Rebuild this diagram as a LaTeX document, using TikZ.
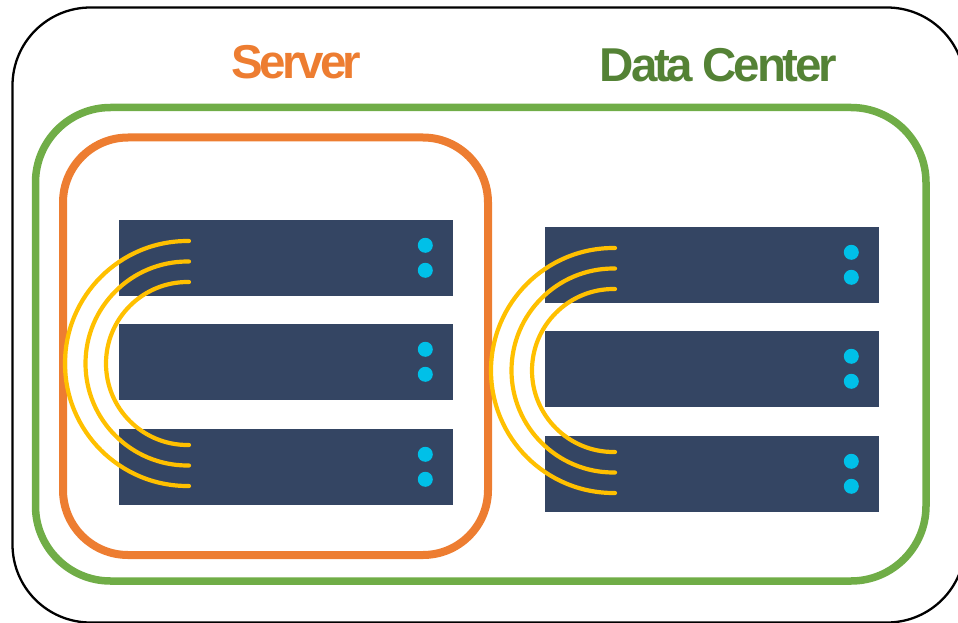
\documentclass[tikz,border=0pt]{standalone}
\usepackage{fontspec}
\setmainfont{Liberation Sans}
\definecolor{panelblue}{HTML}{344563}
\definecolor{dotcyan}{HTML}{00C0E8}
\definecolor{arcgold}{HTML}{FFC000}
\definecolor{boxgreen}{HTML}{70AD47}
\definecolor{boxorange}{HTML}{ED7D31}
\definecolor{labelgreen}{HTML}{548235}
\tikzset{
  outerbox/.style={draw=black,line width=2.3pt,rounded corners=78pt},
  dcbox/.style={draw=boxgreen,line width=7.5pt,rounded corners=75pt},
  srvbox/.style={draw=boxorange,line width=8pt,rounded corners=65pt},
  unitbox/.style={fill=panelblue,draw=none,inner sep=0pt,minimum width=334pt,minimum height=76pt},
  leddot/.style={circle,fill=dotcyan,draw=none,inner sep=0pt,minimum size=15pt},
  linkarc/.style={draw=arcgold,line width=4.2pt,line cap=round},
  srvtitle/.style={inner sep=0pt,font=\bfseries\fontsize{47.5}{47.5}\selectfont\addfontfeature{LetterSpace=-7.8}},
  dctitle/.style={inner sep=0pt,font=\bfseries\fontsize{47.5}{47.5}\selectfont\addfontfeature{LetterSpace=-6.9}}
}
\newcommand{\rackunit}[3]{%
  \node[unitbox] (#1) at (#2,#3) {};
  \node[leddot] (#1a) at (#2+139,#3-13) {};
  \node[leddot] (#1b) at (#2+139,#3+12) {};
}
\newcommand{\linkarcs}[2]{%
  \draw[linkarc] (#1+1.5,#2-122.5) -- (#1,#2-122.5) arc[start angle=-90,end angle=-270,radius=122.5] -- (#1+1.5,#2+122.5);
  \draw[linkarc] (#1+1.5,#2-102) -- (#1,#2-102) arc[start angle=-90,end angle=-270,radius=102] -- (#1+1.5,#2+102);
  \draw[linkarc] (#1+1.5,#2-81.5) -- (#1,#2-81.5) arc[start angle=-90,end angle=-270,radius=81.5] -- (#1+1.5,#2+81.5);
}
\begin{document}
\begin{tikzpicture}[x=1pt,y=-1pt]
\useasboundingbox (0,0) rectangle (958,623);
\clip (0,0) rectangle (958,623);
\draw[outerbox] (12.5,7.5) rectangle (965,622.5);
\draw[dcbox] (35.5,107.5) rectangle (926,581);
\draw[srvbox] (63,137.5) rectangle (488,555);
\rackunit{a1}{286.3}{258.3}
\rackunit{a2}{286.3}{362.3}
\rackunit{a3}{286.3}{467.3}
\rackunit{b1}{712.3}{265.3}
\rackunit{b2}{712.3}{369.3}
\rackunit{b3}{712.3}{474.3}
\linkarcs{187.5}{363.5}
\linkarcs{613.5}{370.5}
\node[srvtitle,text=boxorange] (srv) at (296.5,62) {Server};
\node[dctitle,text=labelgreen] (dc) at (718.5,65) {Data Center};
\end{tikzpicture}
\end{document}
